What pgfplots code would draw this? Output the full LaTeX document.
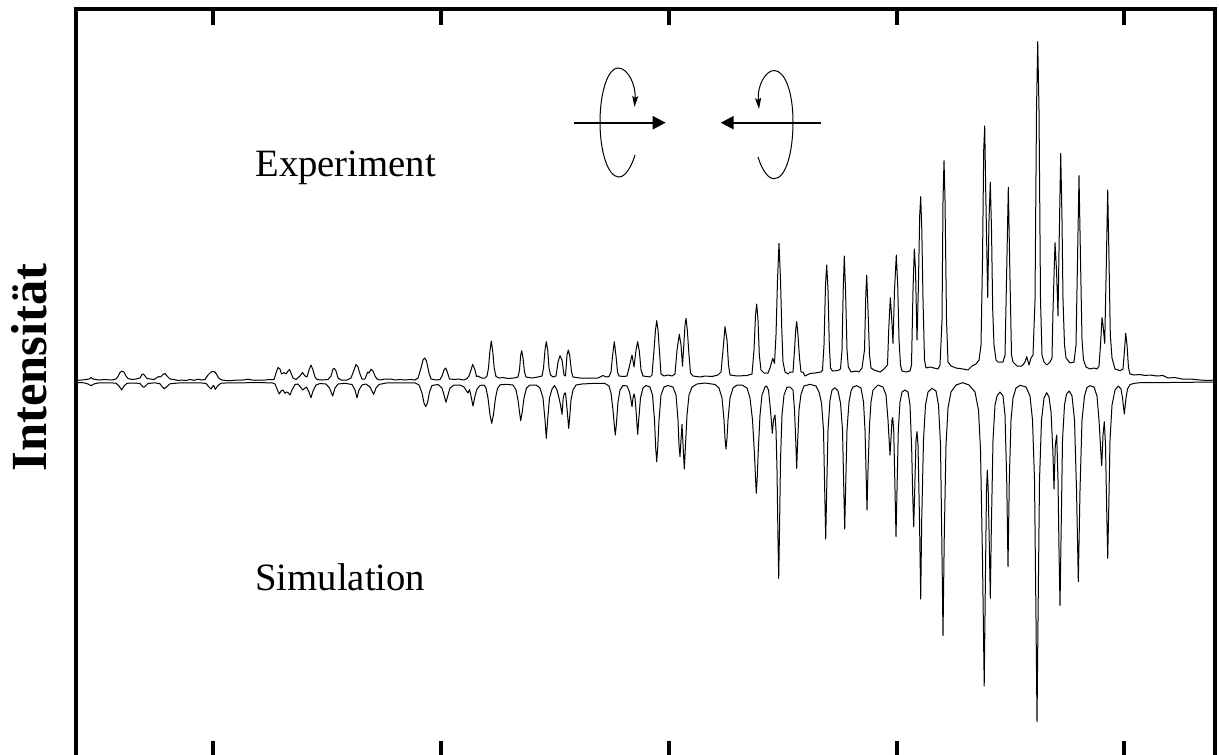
\documentclass[border=0pt]{standalone}
\usepackage{pgfplots}
\pgfplotsset{compat=1.18}
\usepackage{fontspec}
\setmainfont{Liberation Serif}
\usetikzlibrary{arrows.meta}
\begin{document}
\begin{tikzpicture}
\path[use as bounding box, clip] (0pt,0pt) rectangle (609.5pt,377pt);
\begin{axis}[
  at={(38.15pt,-1.5pt)}, anchor=south west,
  scale only axis, width=569.5pt, height=373.75pt,
  xmin=76.3, xmax=1215.3, ymin=9.5, ymax=757, y dir=reverse,
  clip=false,
  axis line style={line width=2pt,black},
  xtick={213.3,441.05,668.8,896.55,1124.3}, xticklabels={},
  ytick=\empty,
  xtick pos=both, tick align=inside,
  tick style={line width=2pt,black},
  major tick length=7.8pt,
]
% Experiment
\addplot[black,line width=0.5pt,line join=round] coordinates {
(76.3,380.5)(82,380)(86,379.5)(89,379)(91,377.5)(93,379)(96,379.5)(100,380)(104,379.5)(108,379.8)(112,380)(116,379)(118,376.5)(120,372.5)(122,371)(124,372)(126,376)(128,378.5)(132,379.5)(136,379)(140,378)(142,374.5)(143.5,374)(145,376)(147,378.5)(150,379)(154,379.5)(156.5,378)(158.5,376.5)(160.5,377)(163,374.5)(165,373.5)(167,376)(170,379)(174,379.5)(178,380.5)(182,380)(186,380.5)(190,379.5)(194,380.3)(198,379.2)(202,380)(205,379.5)(208,375)(211,372)(213,371.5)(215,372)(217,375)(219,378.5)(222,380)(226,380.5)(232,380.5)(238,380)(243,380)(248,379.2)(252,380)(256,380.3)(260,380)(265,380)(270,379.5)(274,379.5)(276,373)(278,367.5)(280,369)(281.5,374)(284,372.5)(286,374)(288,371)(289.5,369.5)(291,373)(293,378)(296,379.5)(300,376)(302.5,372.5)(305,376)(307,377)(309,370)(311,365)(313,370)(315,377)(317,379.5)(322,380)(328,379.5)(331,376)(333,369)(334.5,368.5)(336,371)(338,378)(341,380)(347,380)(351,378)(354,370)(356,364.5)(358,367)(360,374)(362,379)(365,379)(367.7,372)(369,373)(371,369.3)(373,371)(375,376)(377,379)(380,380)(385,379)(391,379)(395,380)(400,379.5)(405,380)(410,379.5)(415,380)(418,378)(421,368)(423,360)(424.7,358)(426.5,361)(429,373)(431,379)(436,380)(440,379.5)(442,376)(444,370)(445.7,368)(447,371)(449.5,379)(455,379.5)(458,379)(464,380)(467,378.5)(469,376)(471,370)(472.7,364.3)
(475,370)(476.5,376.5)(478,376)(479.5,377)(482,378)(485,378)(487,376)(488.5,368)(489.8,352)(491.3,341)(492.8,352)(494.2,368)(496,376.5)(499,378)(503,377.5)(508,378.5)(514,378)(518,377)(519.5,370)(520.7,355)(521.7,350.7)(523,358)(524.5,372)(526,377)(532,378)(538,377)(542,376)(543.5,368)(545,350)(546.3,341.7)(547.7,350)(549,368)(550.5,375)(553,377)(556,376)(558,362)(560,355.7)(562,360)(564,375)(565.5,376)(567,355)(568.3,350)(569.8,356)(571.5,372)(573,377)(580,378)(590,378)(598,378)(603,375.5)(606,377)(609,376.5)(611,372)(612.5,356)(614.3,341.7)(616,356)(617.5,372)(619,376)(624,376.5)(627,376)(629,368)(632,355)(634,367)(636,350)(637.7,341.7)(639.4,352)(641,370)(643,376)(650,377)(652,375)(654,350)(655.5,330)(656.7,320.7)(658,330)(659.5,352)(661,374)(664,376)(668,375)(672,376)(675,374)(677,350)(679.3,334.3)(681,345)(682.5,366)(683.5,350)(685,325)(686,318.3)(687.3,330)(689,355)(690.5,373)(693,376)(700,377)(705,376)(712,376.5)(718,375)(721,372)(723,350)(725,326.7)(727,340)(728.5,365)(730,375)(737,376)(747,375.5)(752,374)(754,350)(755.5,315)(756.7,304)(758,320)(759.3,355)(761,370)(764,373)(768,373)(770,368)(772.7,358.3)(774.5,363.3)(776,335)(777.5,280)(779,243.3)(780.5,280)(781.8,330)(783,362)(785,372)(788,374)(790,372)(793,372)(794.5,350)(795.7,330)(796.7,321.7)(798,335)(799.5,358)(801,372)(803,372)(805,376)(810,373.5)(815,373)(821,372)(822.5,370)(824,345)(825.5,285)(826.7,265)(828,290)(829.3,345)(830.5,368)(832.5,371)(838,370.5)(840.5,369)(842,350)(843.2,290)(844.3,256)(845.5,290)(847,350)(848.3,367)(851,372)(856,371)(859,372)(862,368)(864.5,350)(865.8,295)(866.7,275)(868,310)(869.5,355)(871,368)(874,370)(880,372)(884,369)(887.5,365)(888.7,330)(890.3,297.7)(891.5,315)(893,343.3)(894.5,290)(896.3,255)(897.7,285)(899,340)(900.5,365)(902,371)(906,372)(910,371)(911.5,365)(913,290)(914.3,249)(915.5,270)(917,340)(918.3,290)(919.7,215)(920.7,196.7)(921.8,230)(923,300)(924.5,360)(926,368)(930,367)(934,368)(938,369)(940,365)(942,320)(943,200)(944,160.7)(945,200)(946.5,320)(948,362)(951,366)(956,368)(963,369)(968,370)(972,366)(976,364)(979,360)(981,345)(982.5,260)(983.7,150)(984.7,126)(985.7,190)(987.7,297.7)(989,220)(990.3,182.3)(991.5,230)(992.7,310)(994,345)(996,360)(998,362)(1003,362)(1005,355)(1006.5,280)(1008.3,187.3)(1010,280)(1011.5,355)(1013,362)(1017,366)(1022,366)(1025,362)(1026.7,356.7)(1029,365)(1031,358)(1033,355)(1035,300)(1036.5,110)(1037.7,41.7)(1039,110)(1040.5,300)(1042,355)(1044,362)(1047,365)(1050,362)(1052,358)(1053,310)(1055,242.7)(1056.5,270)(1058,316)(1059,250)(1060.7,153.3)(1062,220)(1063,300)(1064.5,345)(1066,358)(1070,363)(1074,362)(1076,345)(1077.5,260)(1079,175.7)(1080.5,260)(1082,340)(1083.5,360)(1086,367)(1090,369)(1094,368)(1097,369)(1099,366)(1100.5,345)(1102,317.7)(1103,325)(1104.7,343.3)(1106,280)(1107.7,190)(1109,260)(1110.3,335)(1112,358)(1115,369)(1120,370.7)(1123,369)(1124.5,350)(1125.7,333.3)(1127,345)(1128.5,368)(1130,374)(1134,375)(1140,374.5)(1145,375.5)(1150,375)(1157,376)(1163,375.5)(1168,378)(1175,377.5)(1182,379)(1190,379)(1200,380)(1208,380.5)(1215.3,380)
};
% Simulation
\addplot[black,line width=0.5pt,line join=round] coordinates {
(76.3,382.5)(84,382.8)(88,384)(91,385.7)(94,384)(98,383)(110,382.8)(116,383.2)(119,386)(121.7,390)(124,386)(127,383.3)(134,383)(140,383.5)(142,386)(143.7,387.3)(145.5,386)(148,383.5)(155,382.8)(160,383.8)(162,386.5)(164.3,388.7)(167,386.5)(170,383.8)(178,383)(200,382.8)(206,383.5)(209,387)(211,389)(213,386)(213.5,385.5)(215.3,389.3)(218,385.5)(221,383.2)(230,382.8)(260,382.7)(272,382.8)(275,384)(277,389)(279.3,394)(281,391)(283,390)(285,393.3)(286.5,392)(288,392.5)(290,395)(292,390)(295,384.5)(298,384)(300.5,387)(302.7,390)(304.5,388.5)(306.5,387)(309,392)(311,397.7)(313,391)(316,385)(320,383.5)(326,384)(329.5,388)(332.7,396)(335,388)(338,384)(345,383.3)(352,384.5)(355,390)(357,397.7)(359,390)(362,385)(366,384)(370,387)(373.7,394.3)(376,388)(379,384.5)(386,383)(415,382.8)(419,385)(422,393)(424,403)(425.7,406.7)(427.5,403)(429.5,392)(432,385.5)(438,384.5)(442,388)(444,395)(446,402.3)(448,395)(450,388)(454,385)(460,385)(464,387)(466.5,391)(468,393)(469.5,389.5)(471,396)(473,406)(475,396)(477,389)(480,385.5)(484,385)(486,388)(488,398)(490,415)(491.7,423.3)(493.4,415)(495.5,398)(497.5,388.5)(500,384.8)(507,384.3)(513,385)(516,390)(518,400)(519.5,412)(520.7,420.7)(522.2,412)(524,398)(526.5,388)(530,385)(536,385)(540,388)(543,398)(545,420)(546.3,438.3)(547.6,420)(549.5,398)(552,389)(554.5,385.5)(557,390)(559,398)(560.5,405)(562,414.3)(563.2,398)(564.5,393)(565.5,393)(566.7,405)(568,420)(568.7,428.3)(569.7,417)(571,400)(573,390)(576,385)(582,384)(595,383.3)(605,383.5)(609,386)(611,393)(613,410)(614.3,425)(615.3,435)(616.3,425)(618,402)(620,390)(623,385.5)(627,386)(629.5,392)(631,400)(632,406.7)(633,398)(634,394)(635,398)(636,410)(637,425)(637.7,434.3)(638.7,420)(640.5,398)(643,388)(646,385.5)(650,387)(652.5,395)(654.5,420)(655.7,448)(656.7,461.7)(657.7,448)(659,420)(661,395)(664,387)(668,385.5)(673,387)(676,395)(678,420)(679,445)(680,456.7)(681,440)(682,424.3)(683.3,450)(684.3,469)(685.5,445)(687,415)(689,395)(692,387)(697,384)(705,383)(715,384.5)(719,388)(722,398)(724,420)(725,438)(726,449)(727,438)(728,420)(730,398)(733,388)(737,385)(742,385)(747,388)(750,398)(752.5,420)(754.5,455)(755.5,478)(756.3,493.3)(757.2,478)(758.3,450)(760,415)(762,395)(765,387)(766.5,386)(768.5,390)(770,405)(771.3,420)(772.3,433.3)(773.5,420)(775,415)(776,430)(777,470)(778,540)(778.7,578.3)(779.5,530)(780.5,460)(782,415)(784,395)(787,387)(790,387)(793,390)(794.5,410)(795.7,440)(796.7,468.3)(797.7,440)(799,410)(801,394)(804,386)(810,384.3)(816,386)(819,392)(821.5,403)(823.5,430)(824.7,490)(825.7,539)(826.7,490)(828,430)(830,400)(832,390)(835,387.7)(838,391)(840.5,403)(842.5,430)(843.7,485)(844.7,529)(845.7,485)(847,430)(849,402)(851,391)(853,387)(856.7,385.7)(861,388)(863.5,402)(865,430)(866,470)(867,510)(868,470)(869.5,425)(871,402)(873,390)(878,385)(883,387)(886,395)(888,420)(889,438)(890,455)(891,438)(892,420)(892.7,417.7)(893.7,430)(895,490)(896,536.7)(897,490)(898.3,430)(900,402)(902,392)(905,390)(908,392)(910,405)(911.7,450)(912.7,495)(913.7,526.7)(914.7,490)(916,440)(917,431.7)(918,445)(919.5,520)(920.7,599)(921.7,520)(923.5,440)(925.5,405)(928,392)(932,388.3)(936,391)(938.5,405)(940.5,445)(941.8,540)(943,635.7)(944.2,540)(946,445)(948,408)(951,392)(956,385)(962.7,382.7)(969,385)(975,392)(978.5,410)(980.5,450)(982.5,560)(984.2,686)(985.5,570)(986.5,490)(987.3,470)(988.2,490)(989.2,540)(990.3,598.3)(991.3,530)(993,440)(995,405)(997,396)(1000,392)(1003,396)(1005,415)(1006.7,480)(1008,566.7)(1009.3,480)(1011,420)(1013,398)(1016,388)(1020,385.3)(1026,387)(1030,396)(1032.5,420)(1034.5,480)(1036,620)(1037,721.7)(1038,620)(1039.5,480)(1041.5,420)(1044,398)(1046.7,392.7)(1049,397)(1051,412)(1052.8,450)(1054,489)(1055.3,445)(1056.7,435)(1058,480)(1059,550)(1060,605.7)(1061,540)(1062.5,440)(1064.5,405)(1066.5,394)(1069.3,391)(1072,396)(1074.5,420)(1076.5,490)(1078.3,581.7)(1080,490)(1082,420)(1084.5,396)(1087,387.5)(1090,385.7)(1094,387)(1097,396)(1099,420)(1100.7,450)(1101.7,465.7)(1103,435)(1104.3,421.7)(1105.5,445)(1106.7,510)(1107.7,558.3)(1108.7,510)(1110,440)(1112,405)(1115,390)(1118.3,386)(1121,389)(1122.5,398)(1124.3,414)(1126,398)(1127.5,389)(1130,384.5)(1135,383.2)(1140,382.7)(1170,382.5)(1215.3,382)
};
\node[anchor=base west,font=\fontsize{19.35pt}{23pt}\selectfont,inner sep=0pt] at (axis cs:255,176) {Experiment};
\node[anchor=base west,font=\fontsize{19.35pt}{23pt}\selectfont,inner sep=0pt] at (axis cs:255,590) {Simulation};
\node[anchor=base,rotate=90,font=\fontsize{25.3pt}{30pt}\selectfont\bfseries,inner sep=0pt] at (axis cs:47,367.5) {Intensität};
% circular polarisation symbols
\draw[-{Triangle[length=6.5pt,width=6.5pt]},line width=1.1pt] (axis cs:574,122.7) -- (axis cs:665.7,122.7);
\draw[-{Triangle[length=6.5pt,width=6.5pt]},line width=1.1pt] (axis cs:820.7,122.7) -- (axis cs:720.7,122.7);
\draw[-{Stealth[length=5.5pt,width=3pt,inset=1pt]},line width=0.5pt] (axis cs:635,155) .. controls (axis cs:631,168) and (axis cs:625,177) .. (axis cs:619,177) .. controls (axis cs:608,177) and (axis cs:600,152) .. (axis cs:600,122) .. controls (axis cs:600,92) and (axis cs:608,68) .. (axis cs:618,68) .. controls (axis cs:628,68) and (axis cs:636,85) .. (axis cs:634.5,107);
\draw[-{Stealth[length=5.5pt,width=3pt,inset=1pt]},line width=0.5pt] (axis cs:758,157) .. controls (axis cs:762,170) and (axis cs:768,178.7) .. (axis cs:774,178.7) .. controls (axis cs:786,178.7) and (axis cs:793,152) .. (axis cs:793,122) .. controls (axis cs:793,92) and (axis cs:785,70.5) .. (axis cs:774,70.5) .. controls (axis cs:766,70.5) and (axis cs:757,85) .. (axis cs:759,109);
\end{axis}
\end{tikzpicture}
\end{document}
